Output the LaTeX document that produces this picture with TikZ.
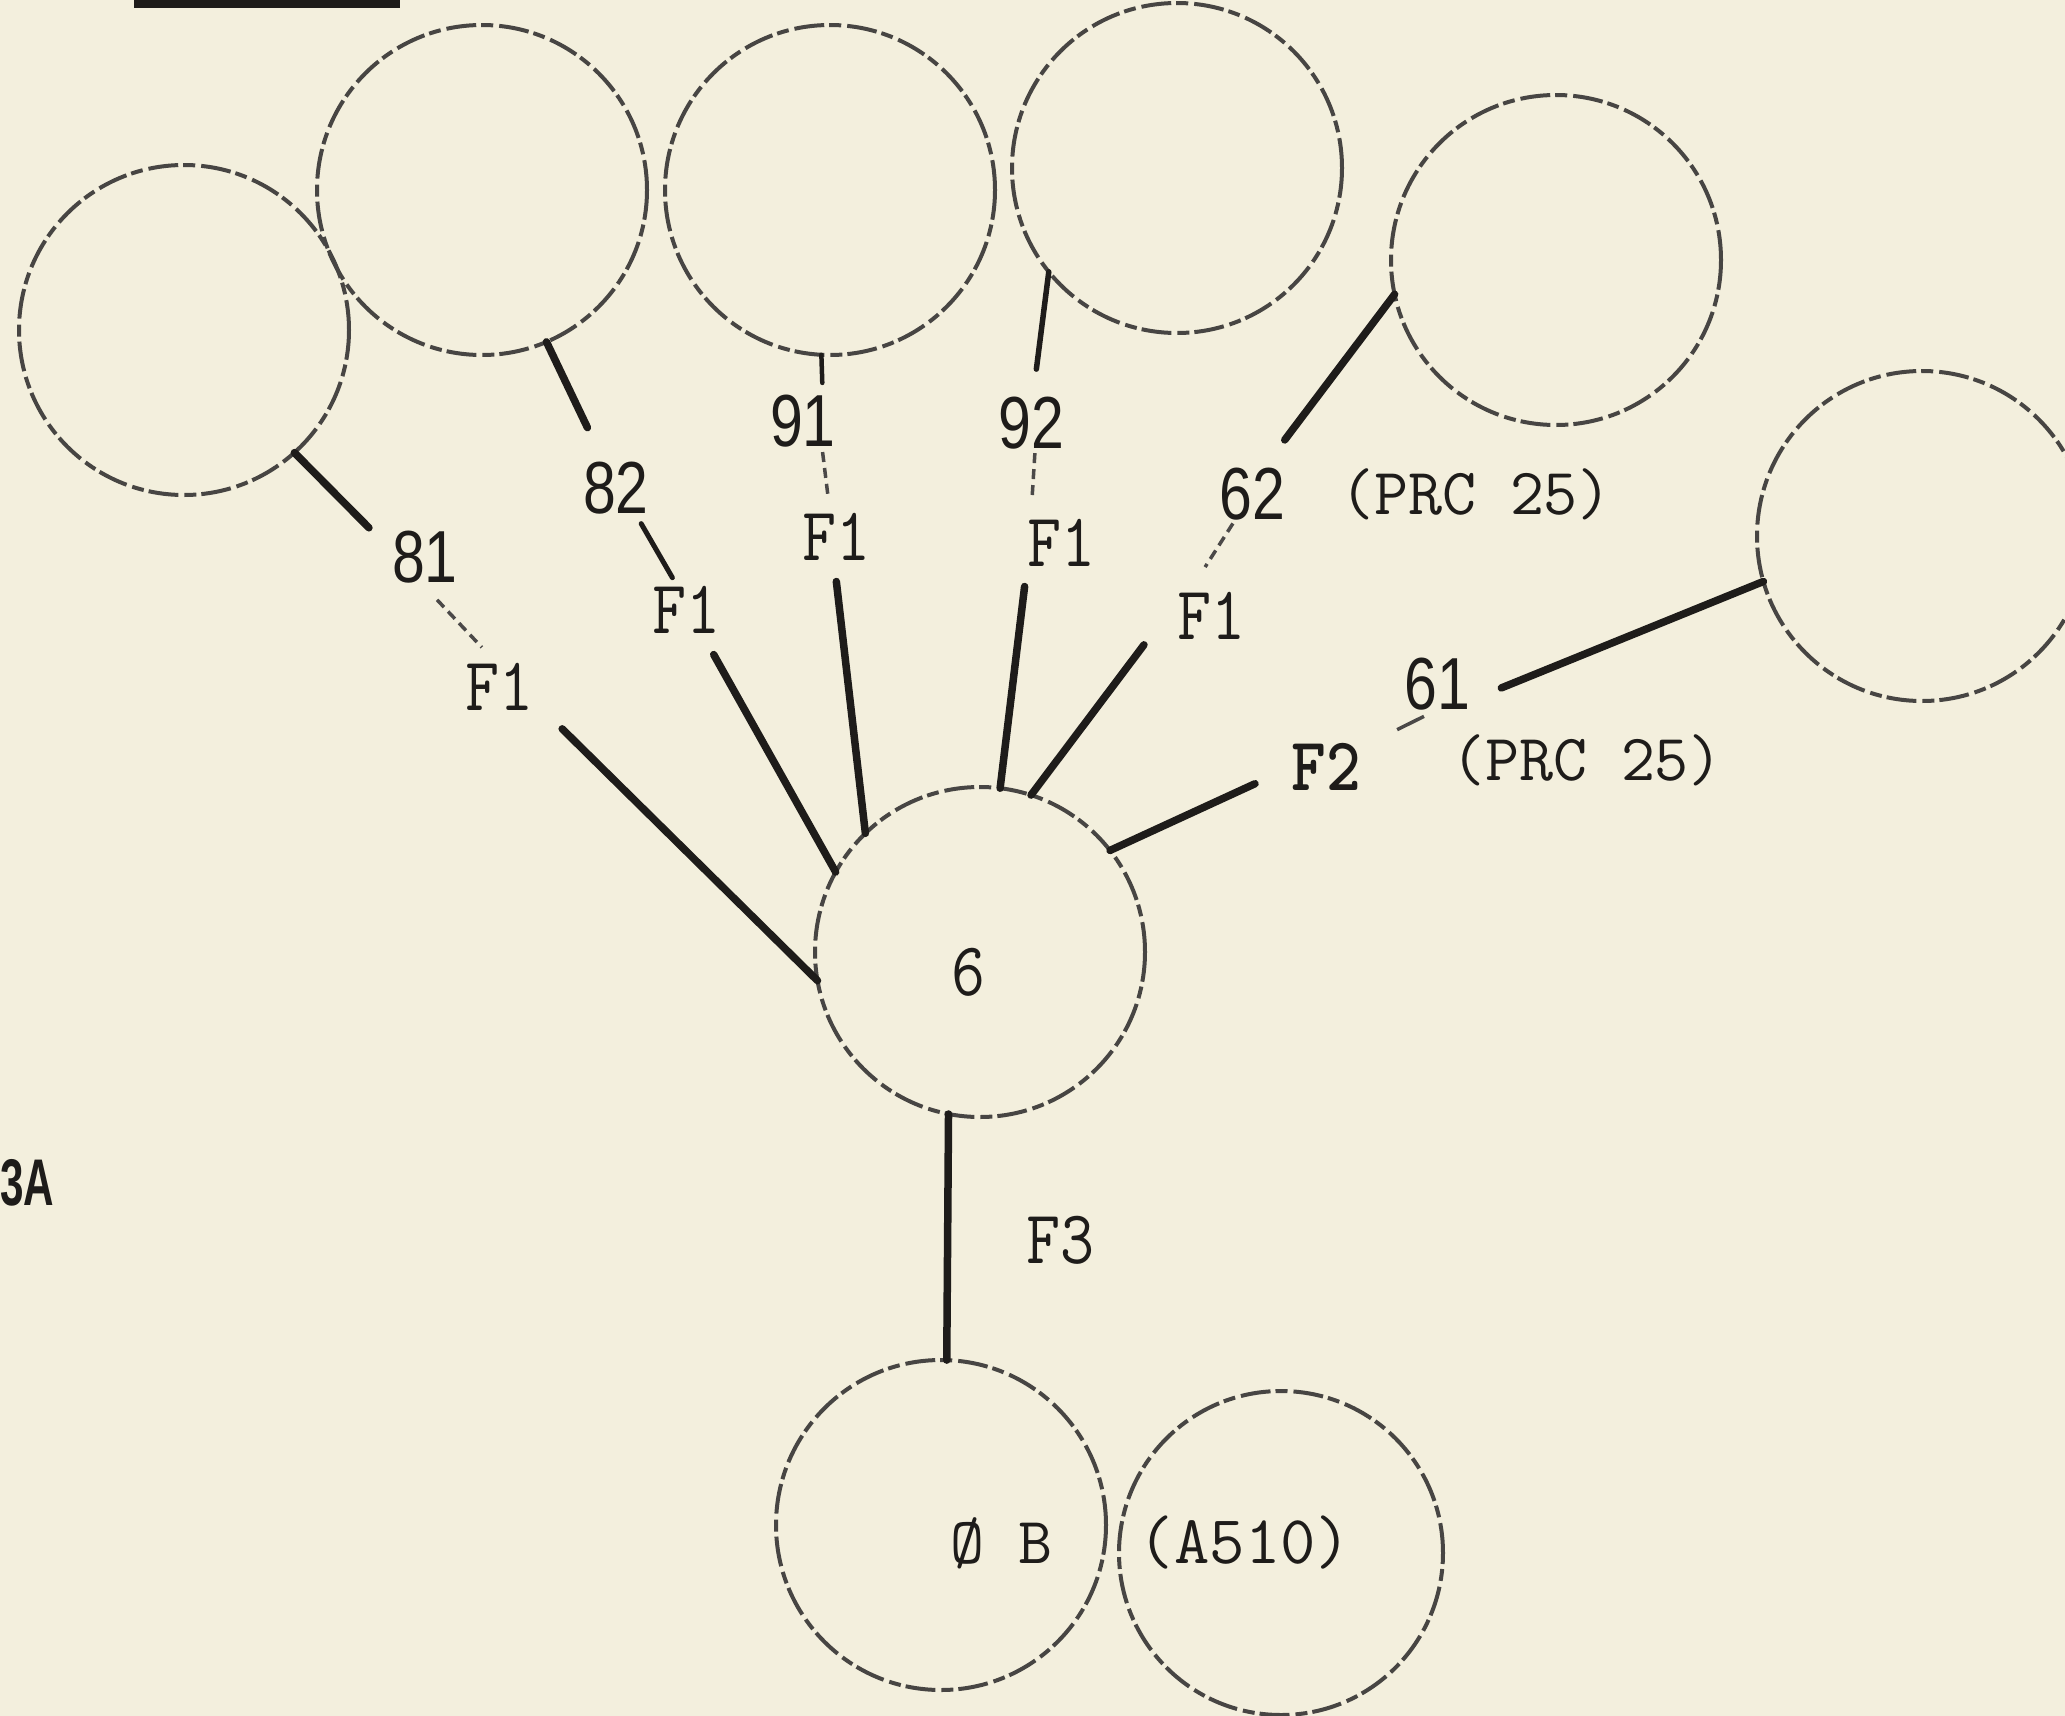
\documentclass[tikz,border=0pt]{standalone}
\usepackage{fontspec}
\setmainfont{Liberation Serif}
\newfontfamily\labsans{Liberation Sans}
\usepackage{graphicx}
\newcommand{\dgt}[1]{\scalebox{1}[1.25]{\fontsize{59}{60}\labsans #1}}
\newcommand{\tw}[1]{\scalebox{1}[1.15]{\fontsize{66}{68}\ttfamily #1}}
\newcommand{\twb}[1]{\scalebox{1}[1.15]{\fontsize{66}{68}\ttfamily\bfseries #1}}
\newcommand{\twp}[1]{{\fontsize{66}{68}\ttfamily #1}}
\definecolor{paper}{RGB}{243,239,221}
\definecolor{ink}{RGB}{30,28,26}
\begin{document}
\begin{tikzpicture}[x=1pt,y=-1pt,
  ring/.style={circle, draw=ink!82, line width=4pt,
    dash pattern=on 30pt off 6pt on 12pt off 5pt,
    minimum size=330pt, inner sep=0pt, outer sep=0pt},
  lab/.style={inner sep=0pt, outer sep=0pt, text=ink},
  conn/.style={draw=ink, line width=7.5pt, line cap=round},
  faint/.style={draw=ink!80, line width=3.5pt, dash pattern=on 10pt off 6pt}]
\fill[paper] (0,0) rectangle (2065,1716);
\useasboundingbox (0,0) rectangle (2065,1716);
% fragment of underlined heading at the top
\fill[ink] (134,-4) rectangle (400,8);
% circles
\node[ring] (c81) at (184,330) {};
\node[ring] (c82) at (482,190) {};
\node[ring] (c91) at (830,190) {};
\node[ring] (c92) at (1177,168) {};
\node[ring] (c62) at (1556,260) {};
\node[ring] (c61) at (1922,536) {};
\node[ring] (c6) at (980,952) {};
\node[ring] (cb) at (941,1525) {};
\node[ring, minimum size=324pt] (ca) at (1281,1553) {};
% labels
\node[lab] (l81) at (425,557) {\dgt{81}};
\node[lab] (f81) at (499,687) {\tw{F1}};
\node[lab] (l82) at (616,488) {\dgt{82}};
\node[lab] (f82) at (686,610) {\tw{F1}};
\node[lab] (l91) at (803,421) {\dgt{91}};
\node[lab] (f91) at (836,537) {\tw{F1}};
\node[lab] (l92) at (1031,423) {\dgt{92}};
\node[lab] (f92) at (1061,543) {\tw{F1}};
\node[lab] (l62) at (1252,494) {\dgt{62}};
\node[lab] (n62) at (1476,494) {\twp{(PRC 25)}};
\node[lab] (f62) at (1211,616) {\tw{F1}};
\node[lab] (l61) at (1437,684) {\dgt{61}};
\node[lab] (n61) at (1587,760) {\twp{(PRC 25)}};
\node[lab] (f2) at (1326,767) {\twb{F2}};
\node[lab] (f3) at (1060,1240) {\tw{F3}};
\node[lab] (t6) at (968,972) {\tw{6}};
\node[lab] (tb) at (1001,1543) {\twp{Ø B}};
\node[lab] (ta) at (1245,1543) {\scalebox{1.04}{\twp{(A510)}}};
\node[lab, anchor=east] (t3a) at (54,1183) {\scalebox{0.64}[1]{\fontsize{66}{68}\labsans\bfseries 3A}};
% connector 81
\draw[conn, shorten >=33pt] (c81.-48.2) -- (l81.170);
\draw[faint, shorten <=23pt, shorten >=22pt] (l81.-98) -- (f81.95);
\draw[conn, shorten <=41pt] (f81.-21.8) -- (c6.190.1);
% connector 82
\draw[conn, shorten >=38pt] (c82.-67.9) -- (l82.115.7);
\draw[conn, line width=5pt, shorten <=11pt, shorten >=10pt] (l82.-53.5) -- (f82.110.6);
\draw[conn, shorten <=24pt] (f82.-56.3) -- (c6.151.4);
% connector 91
\draw[conn, line width=4.5pt, shorten >=12pt] (c91.-93.8) -- (l91.53.5);
\draw[faint, shorten <=5pt, shorten >=16pt] (l91.-54.9) -- (f91.104);
\draw[conn, shorten <=21pt] (f91.-95) -- (c6.134.3);
% connector 92
\draw[conn, line width=5.5pt, shorten >=28pt] (c92.219.5) -- (l92.86.4);
\draw[faint, shorten <=4pt, shorten >=19pt] (l92.-81) -- (f92.142.8);
\draw[conn, shorten <=20pt] (f92.south west) -- (c6.83);
% connector 62
\draw[conn, shorten >=35pt] (c62.192.3) -- (l62.66);
\draw[faint, shorten <=4pt, shorten >=30pt] (l62.-123.7) -- (f62.133.8);
\draw[conn, shorten <=55pt] (f62.156.8) -- (c6.72.2);
% connector 61
\draw[conn, shorten >=34pt] (c61.196.1) -- (l61.-27.3);
\draw[faint, dash pattern=on 30pt off 6pt, shorten <=14pt, shorten >=40pt] (l61.-91) -- (f2.29.7);
\draw[conn, shorten <=40pt] (f2.180) -- (c6.38.5);
% connector F3
\draw[conn] (c6.259.6) -- (cb.88.6);
\end{tikzpicture}
\end{document}
